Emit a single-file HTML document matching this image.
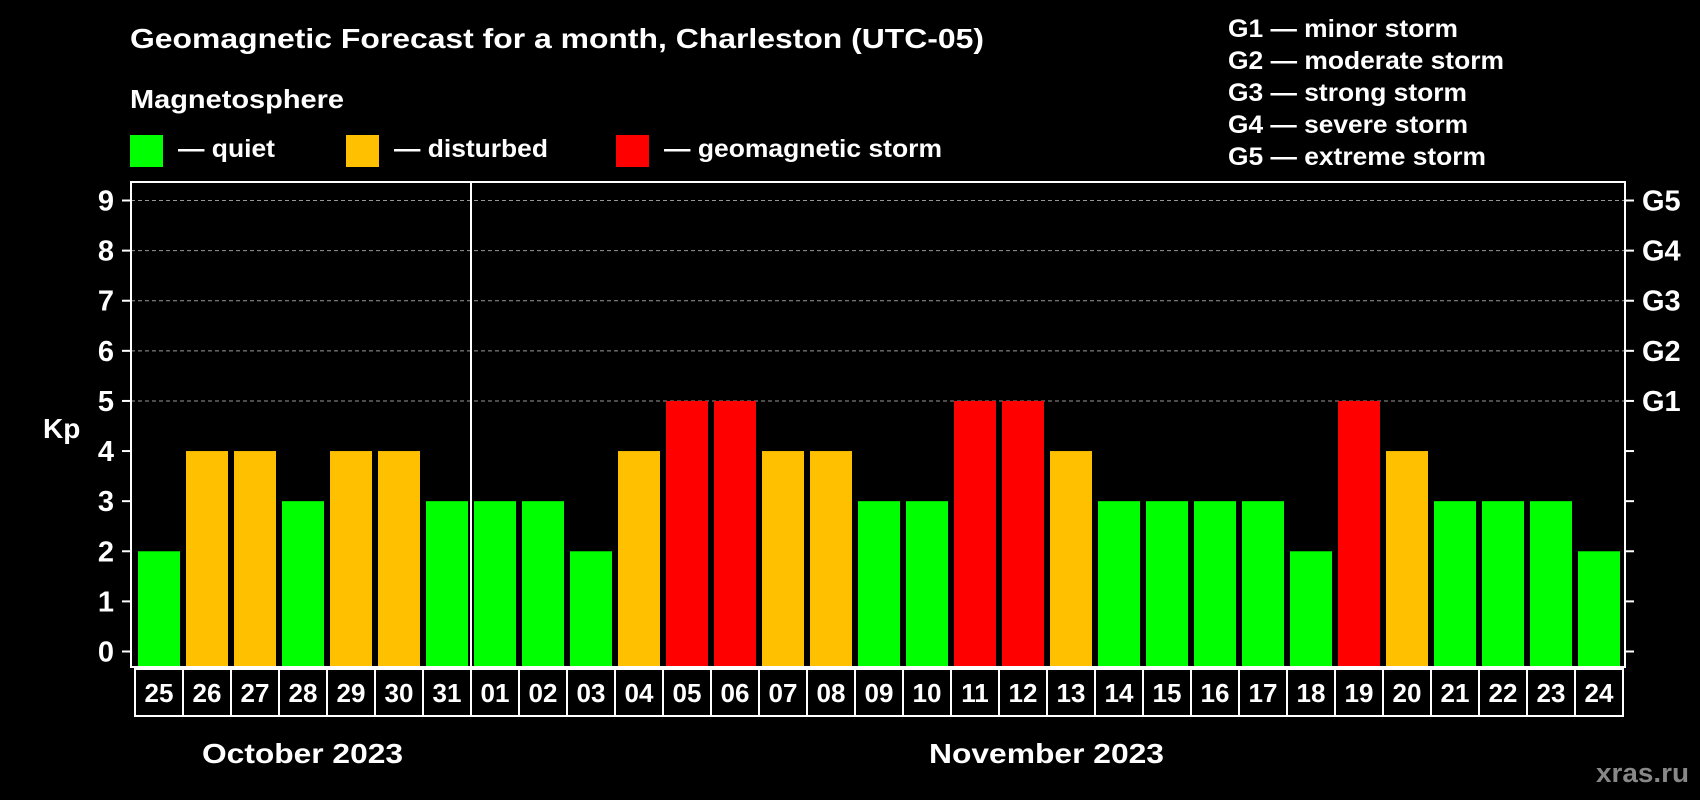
<!DOCTYPE html>
<html><head><meta charset="utf-8"><style>
html,body{margin:0;padding:0;background:#000;}
svg{display:block;font-family:"Liberation Sans",Arial,sans-serif;font-weight:bold;}
</style></head><body>
<svg id="c" width="1700" height="800" viewBox="0 0 1700 800">
<rect width="1700" height="800" fill="#000"/>
<text x="130" y="48" fill="#fff" font-size="28" textLength="854" lengthAdjust="spacingAndGlyphs">Geomagnetic Forecast for a month, Charleston (UTC-05)</text>
<text x="130" y="108" fill="#fff" font-size="26" textLength="214" lengthAdjust="spacingAndGlyphs">Magnetosphere</text>
<g>
<rect x="130" y="135" width="33" height="32" fill="#00ff00"/>
<text x="178" y="157" fill="#fff" font-size="25" textLength="97" lengthAdjust="spacingAndGlyphs">— quiet</text></g>
<g>
<rect x="346" y="135" width="33" height="32" fill="#ffc000"/>
<text x="394" y="157" fill="#fff" font-size="25" textLength="154" lengthAdjust="spacingAndGlyphs">— disturbed</text></g>
<g>
<rect x="616" y="135" width="33" height="32" fill="#ff0000"/>
<text x="664" y="157" fill="#fff" font-size="25" textLength="278" lengthAdjust="spacingAndGlyphs">— geomagnetic storm</text></g>
<g fill="#fff" font-size="25" lengthAdjust="spacingAndGlyphs">
<text x="1228" y="37" textLength="230" lengthAdjust="spacingAndGlyphs">G1 — minor storm</text>
<text x="1228" y="69" textLength="276" lengthAdjust="spacingAndGlyphs">G2 — moderate storm</text>
<text x="1228" y="101" textLength="239" lengthAdjust="spacingAndGlyphs">G3 — strong storm</text>
<text x="1228" y="133" textLength="240" lengthAdjust="spacingAndGlyphs">G4 — severe storm</text>
<text x="1228" y="165" textLength="258" lengthAdjust="spacingAndGlyphs">G5 — extreme storm</text>
</g>
<text x="43" y="438" fill="#fff" font-size="28">Kp</text>
<text x="202" y="763" fill="#fff" font-size="28" textLength="201" lengthAdjust="spacingAndGlyphs">October 2023</text>
<text x="929" y="763" fill="#fff" font-size="28" textLength="235" lengthAdjust="spacingAndGlyphs">November 2023</text>
<text x="1596" y="782" fill="#888" font-size="27" textLength="93" lengthAdjust="spacingAndGlyphs">xras.ru</text>
<g id="plot"></g>
</svg>
<script>
const days=["25","26","27","28","29","30","31","01","02","03","04","05","06","07","08","09","10","11","12","13","14","15","16","17","18","19","20","21","22","23","24"];
const kp=[2,4,4,3,4,4,3,3,3,2,4,5,5,4,4,3,3,5,5,4,3,3,3,3,2,5,4,3,3,3,2];
const yTicks=[0,1,2,3,4,5,6,7,8,9];
const gLabels=["","","","","","G1","G2","G3","G4","G5"];
const NS="http://www.w3.org/2000/svg";
const g=document.getElementById('plot');
const L=131,R=1625,T=182,B=667,y0=651.5,unit=(651.5-200.5)/9;
const firstBar=138,pitch=48,bw=42;
const y=v=>y0-v*unit;
const x=i=>firstBar+i*pitch;
function mk(t,a){const e=document.createElementNS(NS,t);for(const k in a)e.setAttribute(k,a[k]);g.appendChild(e);return e;}
yTicks.forEach((v,i)=>{
  if(v>=5){const l=mk('line',{x1:L,x2:R,y1:y(v),y2:y(v),stroke:'#999','stroke-width':1,'stroke-dasharray':'4,3'});
  
  }
  const t1=mk('line',{x1:122,x2:L,y1:y(v),y2:y(v),stroke:'#fff','stroke-width':2});
  
  
  const t2=mk('line',{x1:R,x2:1634,y1:y(v),y2:y(v),stroke:'#fff','stroke-width':2});
  
  
  const tl=mk('text',{x:114,y:y(v)+10,fill:'#fff','font-size':29,'text-anchor':'end'});tl.textContent=v;
  
  
  if(gLabels[i]){const gl=mk('text',{x:1642,y:y(v)+10,fill:'#fff','font-size':29});gl.textContent=gLabels[i];
  
  }
});
kp.forEach((v,i)=>{
  const c=v>=5?'#ff0000':(v>=4?'#ffc000':'#00ff00');
  const r=mk('rect',{x:x(i),y:y(v),width:bw,height:B-y(v),fill:c});
  
  
});
const fr=mk('rect',{x:L,y:T,width:R-L,height:B-T,fill:'none',stroke:'#fff','stroke-width':2});


const dv=mk('line',{x1:471,x2:471,y1:T,y2:B,stroke:'#fff','stroke-width':2});


const bx=mk('rect',{x:135,y:669,width:1488,height:47,fill:'none',stroke:'#fff','stroke-width':2});


days.forEach((d,i)=>{
  if(i>0){const s=mk('line',{x1:135+i*pitch,x2:135+i*pitch,y1:669,y2:716,stroke:'#fff','stroke-width':2});
  
  }
  const t=mk('text',{x:x(i)+bw/2,y:702,fill:'#fff','font-size':26,'text-anchor':'middle'});t.textContent=d;
  
  
});
</script>
</body></html>
